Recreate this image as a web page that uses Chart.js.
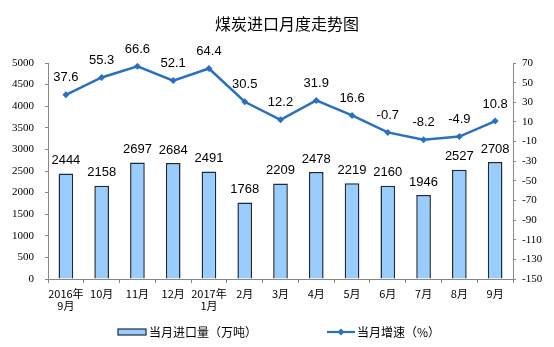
<!DOCTYPE html>
<html>
<head>
<meta charset="utf-8">
<script src="https://cdn.jsdelivr.net/npm/chart.js@4/dist/chart.umd.min.js"></script>
<style>
  html, body { margin: 0; padding: 0; background: #fff; }
  #wrap { width: 554px; height: 347px; }
</style>
</head>
<body>
<div id="wrap"><canvas id="coalChart" width="554" height="347"></canvas></div>
<script>
// 月份（横轴）
const months = [['2016年', '9月'], '10月', '11月', '12月', ['2017年', '1月'], '2月', '3月', '4月', '5月', '6月', '7月', '8月', '9月'];
// 当月进口量（万吨）
const importVolume = [2444, 2158, 2697, 2684, 2491, 1768, 2209, 2478, 2219, 2160, 1946, 2527, 2708];
// 当月增速（%）
const growthRate = [37.6, 55.3, 66.6, 52.1, 64.4, 30.5, 12.2, 31.9, 16.6, -0.7, -8.2, -4.9, 10.8];

const barFill = '#99ccff';
const barEdge = '#1e2a36';
const lineBlue = '#2a70c0';
const axisGrey = '#888888';
const cjkFont = '"Noto Sans CJK SC", "Noto Sans", sans-serif';
const serifFont = '"Liberation Serif", "Times New Roman", serif';

// 数值标签、标题和图例
const decorPlugin = {
  id: 'decor',
  afterDatasetsDraw(chart) {
    const ctx = chart.ctx;
    ctx.save();
    ctx.fillStyle = '#000';
    ctx.font = '13px "Liberation Sans", Arial, sans-serif';
    ctx.textAlign = 'center';
    ctx.textBaseline = 'middle';
    chart.getDatasetMeta(1).data.forEach((el, i) => {
      ctx.fillText(String(importVolume[i]), el.x, el.y - 13);
    });
    chart.getDatasetMeta(0).data.forEach((el, i) => {
      ctx.fillText(growthRate[i].toFixed(1), el.x, el.y - 17);
    });
    ctx.restore();
  },
  afterDraw(chart) {
    const ctx = chart.ctx;
    ctx.save();
    // 标题
    ctx.fillStyle = '#000';
    ctx.font = '16px ' + cjkFont;
    ctx.textAlign = 'center';
    ctx.textBaseline = 'middle';
    ctx.fillText('煤炭进口月度走势图', 287, 24);

    // 图例
    const ly = 332;
    ctx.fillStyle = barFill;
    ctx.fillRect(118, ly - 3, 28, 6);
    ctx.strokeStyle = barEdge;
    ctx.lineWidth = 1.2;
    ctx.strokeRect(118, ly - 3, 28, 6);
    ctx.fillStyle = '#000';
    ctx.font = '12px ' + cjkFont;
    ctx.textAlign = 'left';
    ctx.fillText('当月进口量（万吨）', 149, ly);

    ctx.strokeStyle = lineBlue;
    ctx.lineWidth = 2.2;
    ctx.beginPath();
    ctx.moveTo(327, ly);
    ctx.lineTo(355, ly);
    ctx.stroke();
    ctx.fillStyle = lineBlue;
    ctx.beginPath();
    ctx.moveTo(341, ly - 3.5);
    ctx.lineTo(344.5, ly);
    ctx.lineTo(341, ly + 3.5);
    ctx.lineTo(337.5, ly);
    ctx.closePath();
    ctx.fill();
    ctx.fillStyle = '#000';
    ctx.fillText('当月增速（%）', 357, ly);
    ctx.restore();
  }
};

new Chart(document.getElementById('coalChart'), {
  data: {
    labels: months,
    datasets: [
      {
        type: 'line',
        label: '当月增速（%）',
        data: growthRate,
        yAxisID: 'yRate',
        borderColor: lineBlue,
        backgroundColor: lineBlue,
        borderWidth: 2.5,
        pointStyle: 'rectRot',
        pointRadius: 3.5,
        pointBorderWidth: 0,
        tension: 0,
        order: 0
      },
      {
        type: 'bar',
        label: '当月进口量（万吨）',
        data: importVolume,
        yAxisID: 'yVol',
        backgroundColor: barFill,
        borderColor: barEdge,
        borderWidth: 1.5,
        categoryPercentage: 1,
        barPercentage: 0.41,
        order: 1
      }
    ]
  },
  options: {
    responsive: false,
    animation: false,
    layout: { padding: { top: 63, bottom: 24, left: 0, right: 0 } },
    plugins: {
      legend: { display: false },
      tooltip: { enabled: false }
    },
    scales: {
      x: {
        offset: true,
        grid: { drawOnChartArea: false, offset: true, tickLength: 4, color: axisGrey },
        border: { color: axisGrey },
        ticks: {
          color: '#000',
          font: { family: cjkFont, size: 11, lineHeight: 1.1 },
          padding: 5,
          maxRotation: 0,
          autoSkip: false
        },
        afterFit(scale) { scale.height = 44; }
      },
      yVol: {
        position: 'left',
        min: 0,
        max: 5000,
        ticks: {
          stepSize: 500,
          color: '#000',
          font: { family: serifFont, size: 11 },
          padding: 11,
          callback: (v) => String(v)
        },
        grid: { drawOnChartArea: false, tickLength: 3, color: axisGrey },
        border: { color: axisGrey },
        afterFit(scale) { scale.width = 48; }
      },
      yRate: {
        position: 'right',
        min: -150,
        max: 70,
        ticks: {
          stepSize: 20,
          color: '#000',
          font: { family: serifFont, size: 11 },
          padding: 6,
          callback: (v) => String(v)
        },
        grid: { drawOnChartArea: false, tickLength: 3, color: axisGrey },
        border: { color: axisGrey },
        afterFit(scale) { scale.width = 41; }
      }
    }
  },
  plugins: [decorPlugin]
});
</script>
</body>
</html>
